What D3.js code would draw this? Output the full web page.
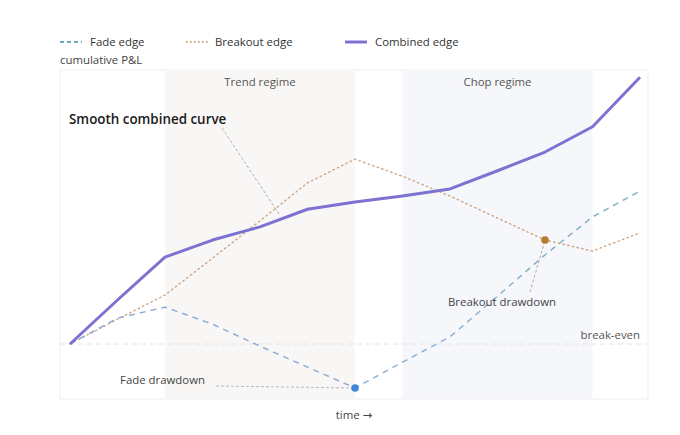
<!DOCTYPE html>
<html><head><meta charset="utf-8">
<script src="https://cdn.jsdelivr.net/npm/d3@7"></script>
<style>
html,body{margin:0;padding:0;background:#fff;}
svg{display:block;font-family:"Open Sans","Noto Sans",sans-serif;}
</style></head>
<body><svg id="c" width="680" height="435"></svg>
<script>
const steps = d3.range(13);
const fadeEdge     = [0, 4.7, 6.7, 3.6, -0.4, -4.2, -8.0, -3.3, 1.3, 8.7, 16.2, 23.1, 27.8];
const breakoutEdge = [0, 4.5, 8.9, 15.6, 22.4, 29.3, 33.6, 30.5, 26.9, 22.9, 18.9, 16.9, 20.2];
const combinedEdge = [0, 8.0, 15.8, 18.9, 21.3, 24.5, 25.8, 26.9, 28.2, 31.5, 34.9, 39.5, 48.5];
const regimes = [
  {label: "Trend regime", from: 2, to: 6},
  {label: "Chop regime",  from: 7, to: 11}
];
const seriesNames = ["Fade edge", "Breakout edge", "Combined edge"];

const svg = d3.select("#c");
const FS = 11.4;
const x = d3.scaleLinear().domain([0, 12]).range([70, 640]);
const xl = 60, xr = 648;
const y = d3.scaleLinear().domain([-10, 50]).range([399, 69]);

// plot frame
svg.append("rect").attr("x", xl).attr("y", 70).attr("width", xr - xl).attr("height", 329)
  .attr("fill", "none").attr("stroke", "#efefef").attr("stroke-width", 1);

// regimes
const regFill = ["#f9f7f6", "#f6f7fb"];
regimes.forEach((r, i) => {
  svg.append("rect").attr("x", x(r.from)).attr("y", 70)
    .attr("width", x(r.to) - x(r.from)).attr("height", 329).attr("fill", regFill[i]);
  svg.append("text").attr("x", (x(r.from) + x(r.to)) / 2).attr("y", 86)
    .attr("text-anchor", "middle").attr("font-size", FS).attr("fill", "#555")
    .text(r.label);
});

// break-even
svg.append("line").attr("x1", xl).attr("x2", xr).attr("y1", y(0)).attr("y2", y(0))
  .attr("stroke", "#e4e4e4").attr("stroke-dasharray", "5,4").attr("stroke-width", 1);
svg.append("text").attr("x", 640).attr("y", y(0) - 5).attr("text-anchor", "end")
  .attr("font-size", FS).attr("fill", "#555").text("break-even");

// gradient for fade
const defs = svg.append("defs");
const g = defs.append("linearGradient").attr("id", "fadeGrad")
  .attr("gradientUnits", "userSpaceOnUse").attr("x1", x(0)).attr("x2", x(12)).attr("y1", 0).attr("y2", 0);
g.append("stop").attr("offset", "0%").attr("stop-color", "#93abdb");
g.append("stop").attr("offset", "55%").attr("stop-color", "#8fb0d2");
g.append("stop").attr("offset", "100%").attr("stop-color", "#84b2c6");

const line = d3.line().x((d, i) => x(i)).y(d => y(d));

svg.append("path").datum(breakoutEdge).attr("d", line).attr("fill", "none")
  .attr("stroke", "#cfa482").attr("stroke-width", 1.4).attr("stroke-dasharray", "1.4,3.4")
  .attr("stroke-linecap", "round");
svg.append("path").datum(fadeEdge).attr("d", line).attr("fill", "none")
  .attr("stroke", "url(#fadeGrad)").attr("stroke-width", 1.5).attr("stroke-dasharray", "6,5");
svg.append("path").datum(combinedEdge).attr("d", line).attr("fill", "none")
  .attr("stroke", "#7d72d2").attr("stroke-width", 3).attr("stroke-linejoin", "round");

// annotations
const ann = svg.append("g");
ann.append("text").attr("x", 69).attr("y", 124).attr("font-size", 13.4).attr("font-weight", 600)
  .attr("fill", "#1a1a1a").text("Smooth combined curve");
ann.append("line").attr("x1", 222).attr("y1", 128).attr("x2", (x(4)+x(5))/2 - 4).attr("y2", y((combinedEdge[4]+combinedEdge[5])/2) - 3)
  .attr("stroke", "#a0a0a0").attr("stroke-width", 0.8).attr("stroke-dasharray", "3,2");

// fade drawdown
const fi = 6;
ann.append("line").attr("x1", 216).attr("y1", 386).attr("x2", x(fi)).attr("y2", y(fadeEdge[fi]))
  .attr("stroke", "#aaa").attr("stroke-width", 0.8).attr("stroke-dasharray", "3,2");
ann.append("circle").attr("cx", x(fi)).attr("cy", y(fadeEdge[fi])).attr("r", 3.8).attr("fill", "#3d87d6");
ann.append("text").attr("x", 120).attr("y", 384).attr("font-size", FS).attr("fill", "#444").text("Fade drawdown");

// breakout drawdown
const bi = 10;
ann.append("line").attr("x1", 530).attr("y1", 292).attr("x2", x(bi)).attr("y2", y(breakoutEdge[bi]))
  .attr("stroke", "#999").attr("stroke-width", 0.8).attr("stroke-dasharray", "3,2");
ann.append("circle").attr("cx", x(bi)).attr("cy", y(breakoutEdge[bi])).attr("r", 3.8).attr("fill", "#b87a2e");
ann.append("text").attr("x", 448).attr("y", 306).attr("font-size", FS).attr("fill", "#444").text("Breakout drawdown");

// legend
const leg = svg.append("g");
const legItems = [
  {x: 60, tx: 90, stroke: "#3e8fb0", w: 1.5, dash: "4,3"},
  {x: 186, tx: 215, stroke: "#b88a4a", w: 1.5, dash: "1.5,2.5"},
  {x: 345, tx: 375, stroke: "#7d72d2", w: 3, dash: null}
];
legItems.forEach((d, i) => {
  leg.append("line").attr("x1", d.x).attr("x2", d.x + 22).attr("y1", 42).attr("y2", 42)
    .attr("stroke", d.stroke).attr("stroke-width", d.w).attr("stroke-dasharray", d.dash);
  leg.append("text").attr("x", d.tx).attr("y", 46).attr("font-size", FS).attr("fill", "#333").text(seriesNames[i]);
});
svg.append("text").attr("x", 60).attr("y", 64).attr("font-size", FS).attr("fill", "#444").text("cumulative P&L");
const tt = svg.append("text").attr("x", 354).attr("y", 419).attr("text-anchor", "middle").attr("font-size", FS).attr("fill", "#444");
tt.append("tspan").text("time ");
tt.append("tspan").attr("font-family", "DejaVu Sans").text("→");
</script></body></html>
